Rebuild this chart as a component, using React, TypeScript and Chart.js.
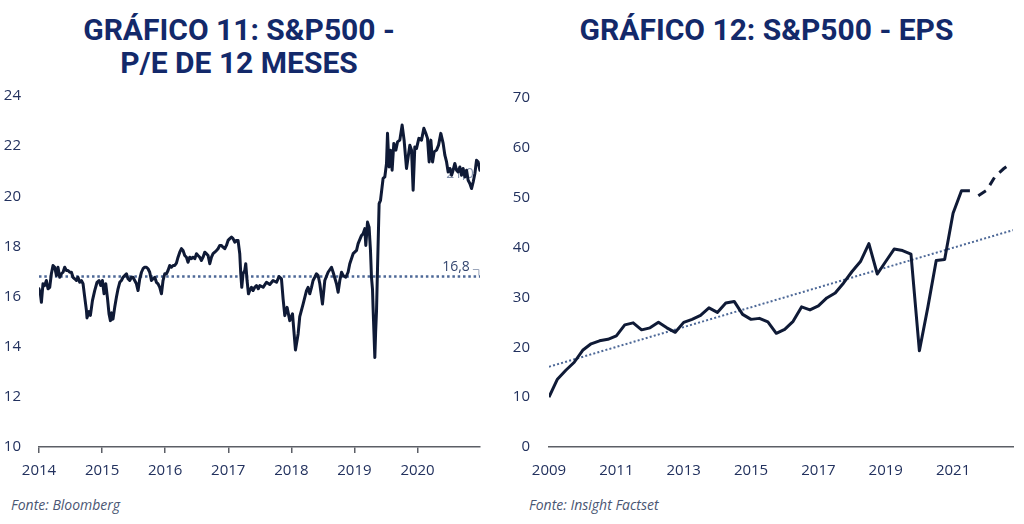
import React, { useEffect, useRef } from "react";
import { Chart, registerables } from "chart.js";

Chart.register(...registerables);

// ---------------- Chart 11: S&P500 P/E 12 months ----------------
const peYears = [
  2014.0, 2014.022, 2014.038, 2014.063, 2014.09, 2014.117, 2014.143, 2014.17, 2014.196, 2014.222,
  2014.249, 2014.276, 2014.301, 2014.328, 2014.355, 2014.381, 2014.407, 2014.434, 2014.46, 2014.487,
  2014.514, 2014.539, 2014.566, 2014.593, 2014.618, 2014.645, 2014.672, 2014.698, 2014.725, 2014.752,
  2014.761, 2014.793, 2014.815, 2014.847, 2014.883, 2014.92, 2014.951, 2014.978, 2015.005, 2015.031,
  2015.058, 2015.084, 2015.11, 2015.132, 2015.153, 2015.173, 2015.2, 2015.227, 2015.253, 2015.28,
  2015.306, 2015.332, 2015.359, 2015.386, 2015.411, 2015.438, 2015.465, 2015.49, 2015.517, 2015.544,
  2015.57, 2015.597, 2015.624, 2015.649, 2015.676, 2015.703, 2015.728, 2015.755, 2015.782, 2015.808,
  2015.835, 2015.861, 2015.887, 2015.914, 2015.941, 2015.966, 2015.993, 2016.02, 2016.045, 2016.072,
  2016.099, 2016.125, 2016.152, 2016.178, 2016.204, 2016.231, 2016.258, 2016.283, 2016.31, 2016.337,
  2016.362, 2016.389, 2016.416, 2016.441, 2016.469, 2016.496, 2016.521, 2016.548, 2016.575, 2016.6,
  2016.627, 2016.654, 2016.68, 2016.707, 2016.734, 2016.759, 2016.786, 2016.813, 2016.838, 2016.865,
  2016.892, 2016.917, 2016.944, 2016.971, 2016.997, 2017.024, 2017.051, 2017.076, 2017.103, 2017.13,
  2017.155, 2017.182, 2017.198, 2017.214, 2017.234, 2017.261, 2017.277, 2017.298, 2017.32, 2017.341,
  2017.368, 2017.393, 2017.42, 2017.447, 2017.475, 2017.5, 2017.552, 2017.605, 2017.658, 2017.71,
  2017.764, 2017.805, 2017.843, 2017.869, 2017.896, 2017.932, 2017.975, 2018.018, 2018.065, 2018.107,
  2018.133, 2018.186, 2018.24, 2018.265, 2018.292, 2018.319, 2018.344, 2018.371, 2018.398, 2018.424,
  2018.451, 2018.493, 2018.53, 2018.582, 2018.636, 2018.662, 2018.715, 2018.741, 2018.768, 2018.795,
  2018.82, 2018.863, 2018.899, 2018.926, 2018.979, 2019.033, 2019.058, 2019.112, 2019.137, 2019.164,
  2019.18, 2019.207, 2019.232, 2019.254, 2019.27, 2019.286, 2019.295, 2019.31, 2019.323, 2019.336,
  2019.35, 2019.366, 2019.391, 2019.413, 2019.438, 2019.454, 2019.481, 2019.508, 2019.524, 2019.549,
  2019.572, 2019.597, 2019.624, 2019.656, 2019.683, 2019.719, 2019.756, 2019.787, 2019.825, 2019.851,
  2019.878, 2019.905, 2019.93, 2019.957, 2019.984, 2020.021, 2020.063, 2020.1, 2020.131, 2020.158,
  2020.184, 2020.211, 2020.238, 2020.263, 2020.301, 2020.333, 2020.369, 2020.406, 2020.433, 2020.46,
  2020.485, 2020.512, 2020.539, 2020.564, 2020.591, 2020.618, 2020.643, 2020.671, 2020.697, 2020.723,
  2020.75, 2020.777, 2020.802, 2020.829, 2020.856, 2020.882, 2020.909, 2020.935, 2020.961, 2020.988,
];

const peValues = [
  16.31, 16.11, 15.77, 16.51, 16.44, 16.64, 16.31, 16.37, 16.91, 17.24,
  17.17, 16.84, 17.17, 16.77, 16.91, 16.97, 17.17, 17.04, 17.04, 16.97,
  16.97, 16.77, 16.71, 16.64, 16.77, 16.57, 16.64, 16.51, 15.97, 15.44,
  15.15, 15.4, 15.25, 15.84, 16.24, 16.57, 16.64, 16.44, 16.64, 16.11,
  16.51, 15.97, 15.31, 15.04, 15.35, 15.1, 15.57, 15.97, 16.31, 16.57,
  16.64, 16.77, 16.84, 16.91, 16.71, 16.64, 16.77, 16.77, 16.64, 16.51,
  16.24, 16.71, 16.97, 17.11, 17.17, 17.17, 17.11, 16.97, 16.64, 16.71,
  16.77, 16.57, 16.51, 16.37, 16.11, 16.64, 16.91, 16.91, 17.04, 17.24,
  17.17, 17.24, 17.24, 17.33, 17.57, 17.77, 17.91, 17.84, 17.64, 17.57,
  17.37, 17.57, 17.51, 17.57, 17.51, 17.71, 17.64, 17.57, 17.44, 17.57,
  17.77, 17.71, 17.64, 17.31, 17.57, 17.71, 17.77, 17.84, 17.91, 18.04,
  18.04, 17.97, 17.91, 18.04, 18.24, 18.31, 18.37, 18.31, 18.17, 18.24,
  18.24, 17.71, 16.91, 16.37, 16.91, 17.04, 17.31, 16.64, 16.11, 16.24,
  16.37, 16.24, 16.37, 16.44, 16.31, 16.44, 16.37, 16.57, 16.48, 16.64,
  16.57, 16.8, 16.71, 15.91, 15.24, 15.57, 15.04, 15.31, 13.87, 14.51,
  15.2, 15.7, 16.24, 16.37, 16.11, 16.37, 16.64, 16.77, 16.91, 16.84,
  16.51, 15.7, 16.64, 16.97, 17.17, 16.97, 16.51, 16.17, 16.64, 16.97,
  16.84, 16.77, 16.97, 17.31, 17.71, 17.84, 18.11, 18.44, 18.51, 18.71,
  18.04, 18.97, 18.77, 17.84, 16.77, 16.3, 15.57, 14.5, 13.57, 14.6,
  15.44, 17.17, 19.71, 19.84, 20.37, 20.71, 20.77, 21.31, 22.51, 21.17,
  21.84, 21.04, 22.11, 21.84, 22.17, 22.24, 22.84, 22.24, 21.11, 21.57,
  22.04, 21.84, 20.24, 21.97, 21.91, 22.31, 22.24, 22.71, 22.51, 22.31,
  21.37, 22.24, 21.37, 21.77, 21.84, 22.04, 22.51, 22.11, 21.64, 21.37,
  20.97, 21.11, 20.84, 21.04, 21.31, 21.04, 20.97, 21.17, 20.84, 21.11,
  20.77, 21.04, 20.64, 20.51, 20.31, 20.57, 20.91, 21.44, 21.37, 21.04,
];

const peAverage = 16.8;
const peAverageLabel = "16,8";
const peLastLabel = "21,0";
const peTickYears = [2014, 2015, 2016, 2017, 2018, 2019, 2020];
const peAxisMin = 2014;
const peAxisMax = 2020.99;
const peYMin = 10;
const peYMax = 24;
const peYStep = 2;

// ---------------- Chart 12: S&P500 EPS ----------------
const epsYears = [
  2009, 2009.25, 2009.5, 2009.75, 2010, 2010.25, 2010.5, 2010.75, 2011, 2011.25,
  2011.5, 2011.75, 2012, 2012.25, 2012.5, 2012.75, 2013, 2013.25, 2013.5, 2013.75,
  2014, 2014.25, 2014.5, 2014.75, 2015, 2015.25, 2015.5, 2015.75, 2016, 2016.25,
  2016.5, 2016.75, 2017, 2017.25, 2017.5, 2017.75, 2018, 2018.25, 2018.5, 2018.75,
  2019, 2019.25, 2019.5, 2019.75, 2020, 2020.25, 2020.5, 2020.75, 2021, 2021.25,
  2021.5,
];
const epsValues = [
  10, 13.6, 15.4, 17, 19.4, 20.7, 21.3, 21.6, 22.3, 24.5,
  24.9, 23.5, 23.9, 25, 23.9, 23, 25, 25.6, 26.4, 27.9,
  27, 28.9, 29.2, 26.6, 25.6, 25.8, 25.1, 22.8, 23.6, 25.2,
  28.1, 27.5, 28.3, 29.9, 30.9, 32.9, 35.2, 37.2, 40.8, 34.7,
  37.2, 39.7, 39.4, 38.7, 19.3, 28, 37.4, 37.6, 46.9, 51.4,
  51.4,
];
const epsForecastYears = [2021.75, 2022, 2022.25, 2022.5, 2022.75];
const epsForecastValues = [50.4, 51.5, 54.3, 55.8, 57];
const epsTrendYears = [2009, 2022.78];
const epsTrendValues = [16.1, 43.5];
const epsTickYears = [2009, 2011, 2013, 2015, 2017, 2019, 2021];
const epsAxisMin = 2009;
const epsAxisMax = 2022.78;
const epsYMin = 0;
const epsYMax = 70;
const epsYStep = 10;

// ---------------- styles ----------------
const NAVY_LINE = "#0f1a36";
const DOT_BLUE = "#4d6897";
const AXIS = "#5c5f66";
const TICK_TEXT = "#22315e";
const TITLE = "#13296a";
const SOURCE = "#4a5673";
const TICK_FONT = { family: "'Open Sans', sans-serif", size: 15 };

const pts = (xs: number[], ys: number[]) => xs.map((x, i) => ({ x, y: ys[i] }));

const peLabelsPlugin = {
  id: "peLabels",
  beforeDatasetsDraw(chart: any) {
    const { ctx, scales } = chart;
    const x = scales.x;
    const y = scales.y;
    const xr = x.getPixelForValue(peYears[peYears.length - 1]);
    ctx.save();
    ctx.font = "14px 'Open Sans', sans-serif";
    ctx.textAlign = "right";
    ctx.textBaseline = "middle";
    ctx.fillStyle = "#8391ad";
    ctx.fillText(peLastLabel, xr - 6, y.getPixelForValue(peValues[peValues.length - 1]) + 4);
    ctx.fillStyle = "#34466f";
    const ya = y.getPixelForValue(peAverage);
    ctx.fillText(peAverageLabel, xr - 10, ya - 9);
    ctx.strokeStyle = "#9aa5ba";
    ctx.lineWidth = 1;
    ctx.beginPath();
    ctx.moveTo(xr - 7, ya - 7);
    ctx.lineTo(xr - 1, ya - 7);
    ctx.lineTo(xr - 1, ya - 1);
    ctx.stroke();
    ctx.restore();
  },
};

const yFit = (width: number) => (s: any) => {
  s.width = width;
  s.paddingTop = 0;
  s.paddingBottom = 0;
};

export default function App() {
  const leftRef = useRef<HTMLCanvasElement>(null);
  const rightRef = useRef<HTMLCanvasElement>(null);

  useEffect(() => {
    const left = new Chart(leftRef.current as HTMLCanvasElement, {
      type: "line",
      data: {
        datasets: [
          {
            data: pts(peYears, peValues),
            borderColor: NAVY_LINE,
            borderWidth: 3,
            pointRadius: 0,
            tension: 0,
            borderJoinStyle: "round",
            borderCapStyle: "round",
          },
          {
            data: pts([peAxisMin, peAxisMax], [peAverage, peAverage]),
            borderColor: DOT_BLUE,
            borderWidth: 2.5,
            borderDash: [2.5, 2.8],
            pointRadius: 0,
          },
        ],
      } as any,
      options: {
        animation: false,
        responsive: true,
        maintainAspectRatio: false,
        layout: { padding: { top: 16, right: 15, left: 0, bottom: 0 } },
        plugins: { legend: { display: false }, tooltip: { enabled: false } },
        scales: {
          x: {
            type: "linear",
            min: peAxisMin,
            max: peAxisMax,
            afterBuildTicks: (s: any) => {
              s.ticks = peTickYears.map((v) => ({ value: v }));
            },
            afterFit: (s: any) => {
              s.height = 38;
            },
            ticks: {
              callback: (v: any) => String(v),
              padding: 9,
              maxRotation: 0,
              autoSkip: false,
              font: TICK_FONT,
              color: TICK_TEXT,
            },
            grid: { display: true, drawOnChartArea: false, drawTicks: true, tickLength: 6, color: AXIS, lineWidth: 1.5 },
            border: { display: true, color: AXIS, width: 1.5 },
          },
          y: {
            min: peYMin,
            max: peYMax,
            ticks: { stepSize: peYStep, padding: 18, font: TICK_FONT, color: TICK_TEXT },
            grid: { display: false, drawTicks: false },
            border: { display: false },
            afterFit: yFit(39),
          },
        },
      } as any,
      plugins: [peLabelsPlugin],
    });

    const right = new Chart(rightRef.current as HTMLCanvasElement, {
      type: "line",
      data: {
        datasets: [
          {
            data: pts(epsYears, epsValues),
            borderColor: NAVY_LINE,
            borderWidth: 3,
            pointRadius: 0,
            tension: 0,
            borderJoinStyle: "round",
          },
          {
            data: pts(epsForecastYears, epsForecastValues),
            borderColor: NAVY_LINE,
            borderWidth: 3,
            borderDash: [9, 7],
            pointRadius: 0,
            tension: 0,
          },
          {
            data: pts(epsTrendYears, epsTrendValues),
            borderColor: DOT_BLUE,
            borderWidth: 2,
            borderDash: [2, 2.2],
            pointRadius: 0,
          },
        ],
      } as any,
      options: {
        animation: false,
        responsive: true,
        maintainAspectRatio: false,
        layout: { padding: { top: 18, right: 11, left: 0, bottom: 0 } },
        plugins: { legend: { display: false }, tooltip: { enabled: false } },
        scales: {
          x: {
            type: "linear",
            min: epsAxisMin,
            max: epsAxisMax,
            afterBuildTicks: (s: any) => {
              s.ticks = epsTickYears.map((v) => ({ value: v }));
            },
            afterFit: (s: any) => {
              s.height = 38;
            },
            ticks: {
              callback: (v: any) => String(v),
              padding: 15,
              maxRotation: 0,
              autoSkip: false,
              font: TICK_FONT,
              color: TICK_TEXT,
            },
            grid: { display: false, drawTicks: false },
            border: { display: true, color: AXIS, width: 1.5 },
          },
          y: {
            min: epsYMin,
            max: epsYMax,
            ticks: { stepSize: epsYStep, padding: 19, font: TICK_FONT, color: TICK_TEXT },
            grid: { display: false, drawTicks: false },
            border: { display: false },
            afterFit: yFit(49),
          },
        },
      } as any,
    });

    return () => {
      left.destroy();
      right.destroy();
    };
  }, []);

  const titleStyle: React.CSSProperties = {
    position: "absolute",
    top: 13,
    textAlign: "center",
    fontFamily: "Roboto, 'Open Sans', sans-serif",
    fontWeight: 700,
    fontSize: 30,
    lineHeight: "33px",
    color: TITLE,
    whiteSpace: "nowrap",
  };
  const sourceStyle: React.CSSProperties = {
    position: "absolute",
    top: 495,
    fontFamily: "'Open Sans', sans-serif",
    fontStyle: "italic",
    fontSize: 14,
    color: SOURCE,
    whiteSpace: "nowrap",
  };

  return (
    <div style={{ position: "fixed", left: 0, top: 0, width: 1024, height: 524, background: "#ffffff", overflow: "hidden" }}>
      <div style={{ ...titleStyle, left: 0, width: 478 }}>
        GRÁFICO 11: S&amp;P500 -<br />P/E DE 12 MESES
      </div>
      <div style={{ ...titleStyle, left: 509, width: 515 }}>GRÁFICO 12: S&amp;P500 - EPS</div>
      <div style={{ position: "absolute", left: 0, top: 80, width: 495, height: 405 }}>
        <canvas ref={leftRef} />
      </div>
      <div style={{ position: "absolute", left: 500, top: 80, width: 524, height: 405 }}>
        <canvas ref={rightRef} />
      </div>
      <div style={{ ...sourceStyle, left: 11 }}>Fonte: Bloomberg</div>
      <div style={{ ...sourceStyle, left: 529 }}>Fonte: Insight Factset</div>
    </div>
  );
}
